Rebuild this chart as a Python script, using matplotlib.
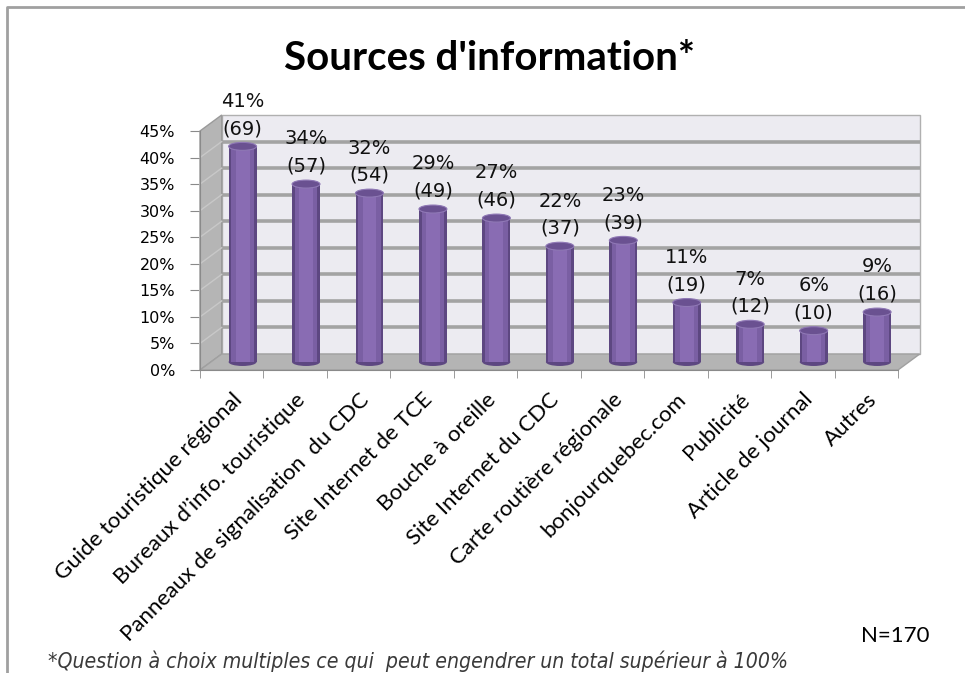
import matplotlib.pyplot as plt
from matplotlib.patches import Polygon, Rectangle, Ellipse
from matplotlib.transforms import ScaledTranslation
from matplotlib.lines import Line2D

# data
categories = ['Guide touristique régional', 'Bureaux d’info. touristique',
              'Panneaux de signalisation  du CDC', 'Site Internet de TCE',
              'Bouche à oreille', 'Site Internet du CDC', 'Carte routière régionale',
              'bonjourquebec.com', 'Publicité', 'Article de journal', 'Autres']
pct_values = [40.6, 33.5, 31.8, 28.8, 27.1, 21.8, 22.9, 11.2, 7.1, 5.9, 9.4]
pct_labels = ['41%', '34%', '32%', '29%', '27%', '22%', '23%', '11%', '7%', '6%', '9%']
counts = [69, 57, 54, 49, 46, 37, 39, 19, 12, 10, 16]
yticks = [0, 5, 10, 15, 20, 25, 30, 35, 40, 45]

W, H = 965, 673
fig = plt.figure(figsize=(W / 100, H / 100), dpi=100)
ax = fig.add_axes([200 / W, (H - 370) / H, 698 / W, 239 / H])
ax.set_xlim(-0.5, 10.5)
ax.set_ylim(0, 45)
ax.patch.set_visible(False)

# depth offsets (back wall and middle plane)
back = ax.transData + ScaledTranslation(0.217, 0.16, fig.dpi_scale_trans)
mid = ax.transData + ScaledTranslation(0.1085, 0.08, fig.dpi_scale_trans)

# back wall
ax.add_patch(Rectangle((-0.5, 0), 11, 45, transform=back, facecolor='#ecebf1',
                       edgecolor='#b0b0b0', lw=1, zorder=0, clip_on=False))
for y in yticks[1:-1]:
    ax.plot([-0.5, 10.5], [y, y], transform=back, color='#a3a3a3', lw=2.6,
            zorder=1, clip_on=False, solid_capstyle='butt')

def disp(tr, x, y):
    return tr.transform((x, y))

fig.canvas.draw()
# side wall
side = [disp(ax.transData, -0.5, 0), disp(ax.transData, -0.5, 45),
        disp(back, -0.5, 45), disp(back, -0.5, 0)]
ax.add_patch(Polygon(side, closed=True, transform=None, facecolor='#b5b5b5',
                     edgecolor='#9a9a9a', lw=1, zorder=2, clip_on=False))
for y in yticks[1:-1]:
    p0 = disp(ax.transData, -0.5, y)
    p1 = disp(back, -0.5, y)
    ax.add_line(Line2D([p0[0], p1[0]], [p0[1], p1[1]], transform=None,
                       color='#c8c8c8', lw=1, zorder=2.5, clip_on=False))
# floor
floor = [disp(ax.transData, -0.5, 0), disp(ax.transData, 10.5, 0),
         disp(back, 10.5, 0), disp(back, -0.5, 0)]
ax.add_patch(Polygon(floor, closed=True, transform=None, facecolor='#b4b4b4',
                     edgecolor='#a0a0a0', lw=1, zorder=2, clip_on=False))

# cylinders
x = list(range(len(categories)))
ax.bar(x, pct_values, width=0.44, color='#5d4781', transform=mid, zorder=3, clip_on=False)
ax.bar(x, pct_values, width=0.36, color='#7a5fa3', transform=mid, zorder=3.1, clip_on=False)
ax.bar(x, pct_values, width=0.22, color='#896cb3', transform=mid, zorder=3.2, clip_on=False)
for xi, v in zip(x, pct_values):
    ax.add_patch(Ellipse((xi, 0), 0.44, 1.5, transform=mid, facecolor='#5d4781',
                         zorder=2.9, clip_on=False))
    ax.add_patch(Ellipse((xi, v), 0.44, 1.5, transform=mid, facecolor='#6a5191',
                         edgecolor='#8f78b5', lw=0.8, zorder=3.5, clip_on=False))

# value labels
for xi, v, lab, c in zip(x, pct_values, pct_labels, counts):
    ax.annotate(f'{lab}\n({c})', (xi, v), xycoords=mid, xytext=(0, 6),
                textcoords='offset points', ha='center', va='bottom',
                fontsize=14, linespacing=1.55, color='#111111', zorder=5)

# axes styling
for s in ['top', 'right']:
    ax.spines[s].set_visible(False)
ax.spines['left'].set_color('#8a8a8a')
ax.spines['bottom'].set_color('#8a8a8a')
ax.spines['left'].set_zorder(4)
ax.spines['bottom'].set_zorder(4)
ax.set_yticks(yticks)
ax.set_yticklabels([f'{t}%' for t in yticks], fontsize=11.5)
ax.tick_params(axis='y', length=7, color='#8a8a8a', pad=11)
ax.set_xticks(x)
ax.set_xticks([i - 0.5 for i in range(len(categories) + 1)], minor=True)
ax.set_xticklabels(categories, rotation=45, ha='right', va='top',
                   rotation_mode='anchor', family='Lato', fontsize=16)
ax.tick_params(axis='x', which='major', length=0, pad=14)
ax.tick_params(axis='x', which='minor', length=6, color='#8a8a8a')

# title and notes
fig.text(490 / W, 1 - 58 / H, "Sources d'information*", ha='center', va='center',
         family='Lato', fontweight='bold', fontsize=29)
fig.text(895 / W, 1 - 636 / H, 'N=170', ha='center', va='center',
         family='Lato', fontsize=16)
fig.text(48 / W, 1 - 661 / H,
         '*Question à choix multiples ce qui  peut engendrer un total supérieur à 100%',
         ha='left', va='center', family='DejaVu Sans', stretch='condensed',
         style='italic', fontsize=15.2, color='#3a3a3a')

# outer border
fig.add_artist(Line2D([7 / W, 7 / W, 1], [0, 1 - 7 / H, 1 - 7 / H],
                      transform=fig.transFigure, color='#a0a0a0', lw=2))

fig.savefig('out.png', dpi=100)
